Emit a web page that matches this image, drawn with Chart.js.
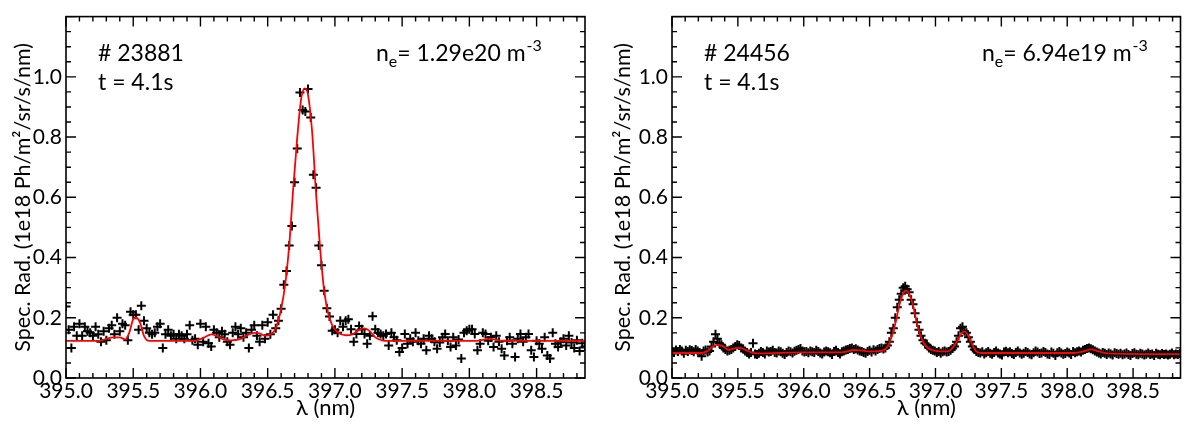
<!DOCTYPE html>
<html>
<head>
<meta charset="utf-8">
<script src="https://cdn.jsdelivr.net/npm/chart.js@4.4.1/dist/chart.umd.min.js"></script>
<style>
  html, body { margin: 0; padding: 0; background: #fff; }
  #wrap { position: relative; width: 1187px; height: 425px; overflow: hidden; }
  #c1 { position: absolute; left: 0; top: 0; }
  #c2 { position: absolute; left: 600px; top: 0; }
</style>
</head>
<body>
<div id="wrap">
  <canvas id="c1" width="600" height="425"></canvas>
  <canvas id="c2" width="587" height="425"></canvas>
</div>
<script>
const FONT = "Lato, 'Open Sans', sans-serif";

// axes
const xMin = 395.0, xMax = 398.86;
const yMin = 0.0, yMax = 1.2;
const xTicks = [395.0, 395.5, 396.0, 396.5, 397.0, 397.5, 398.0, 398.5];
const yTicks = [0.0, 0.2, 0.4, 0.6, 0.8, 1.0];

// labels in the plots
const shots = ["# 23881", "# 24456"];
const times = ["t = 4.1s", "t = 4.1s"];
const densities = ["1.29e20", "6.94e19"];

// shot 23881 : measured spectrum, one value every 0.02 nm from 395.00
const start23881 = 395.0, step23881 = 0.02;
const meas23881 = [
  0.237,0.16,0.10,0.17,0.14,0.18,0.14,0.17,0.155,0.15,
  0.14,0.17,0.145,0.12,0.155,0.125,0.165,0.175,0.145,0.20,
  0.155,0.18,0.175,0.125,0.22,0.21,0.21,0.16,0.24,0.19,
  0.165,0.15,0.145,0.15,0.17,0.18,0.10,0.145,0.16,0.14,
  0.145,0.13,0.145,0.14,0.13,0.145,0.175,0.125,0.13,0.11,
  0.18,0.12,0.17,0.115,0.105,0.16,0.15,0.135,0.155,0.145,
  0.12,0.11,0.15,0.17,0.145,0.165,0.135,0.15,0.10,0.16,
  0.175,0.14,0.12,0.175,0.13,0.185,0.145,0.21,0.165,0.19,
  0.23,0.31,0.355,0.44,0.505,0.65,0.762,0.948,0.89,0.885,
  0.96,0.865,0.675,0.632,0.44,0.374,0.29,0.232,0.204,0.157,
  0.16,
  0.15,0.19,0.17,0.19,0.195,0.162,0.12,0.146,0.173,0.162,
  0.146,0.114,0.14,0.205,0.162,0.15,0.146,0.14,0.146,0.108,
  0.15,0.135,0.125,0.086,0.10,0.146,0.114,0.13,0.12,0.15,
  0.124,0.114,0.13,0.092,0.14,0.13,0.12,0.097,0.118,0.135,
  0.146,0.124,0.103,0.135,0.108,0.128,0.065,0.15,0.157,0.162,
  0.162,0.146,0.092,0.114,0.15,0.146,0.124,0.135,0.103,0.14,
  0.12,0.097,0.075,0.124,0.135,0.114,0.07,0.13,0.146,0.12,
  0.135,0.146,0.092,0.07,0.124,0.114,0.097,0.135,0.075,0.065,
  0.15,0.114,0.103,0.12,0.13,0.108,0.14,0.118,0.10,0.125,
  0.09,0.115,0.105
];
// shot 23881 : fit
const fitX23881 = [395.00,395.25,395.30,395.35,395.40,395.44,395.47,395.50,395.52,395.55,395.58,395.62,
  395.95,396.03,396.08,396.12,396.17,396.22,396.30,396.36,396.40,396.44,396.48,396.52,396.56,396.60,
  396.63,396.66,396.69,396.72,396.75,396.777,396.80,396.83,396.86,396.89,396.92,396.95,396.98,397.02,
  397.08,397.13,397.18,397.22,397.26,397.30,397.35,397.40,398.05,398.15,398.25,398.86];
const fitY23881 = [0.123,0.123,0.13,0.135,0.135,0.128,0.15,0.195,0.20,0.185,0.14,0.123,
  0.123,0.135,0.145,0.14,0.128,0.125,0.13,0.145,0.15,0.148,0.14,0.145,0.165,0.23,
  0.31,0.44,0.63,0.80,0.93,0.962,0.94,0.82,0.61,0.43,0.29,0.215,0.175,0.152,
  0.142,0.145,0.16,0.165,0.155,0.135,0.125,0.123,0.123,0.13,0.123,0.123];

// shot 24456 : measured spectrum, one value every 0.015 nm from 395.00
const start24456 = 395.0, step24456 = 0.015;
const meas24456 = [
  0.09,0.085,0.093,0.088,0.095,0.09,0.082,0.092,0.088,0.094,
  0.091,0.087,0.095,0.09,0.085,0.072,0.09,0.093,0.086,0.09,
  0.105,0.12,0.145,0.13,0.115,0.11,0.10,0.095,0.09,0.092,
  0.095,0.10,0.105,0.11,0.108,0.10,0.096,0.09,0.085,0.08,
  0.085,0.115,0.08,0.078,0.082,0.088,0.085,0.08,0.09,0.086,
  0.088,0.092,0.085,0.083,0.09,0.087,0.082,0.078,0.085,0.09,
  0.087,0.083,0.089,0.092,0.095,0.098,0.09,0.086,0.088,0.084,
  0.09,0.087,0.085,0.092,0.088,0.083,0.08,0.086,0.09,0.087,
  0.084,0.078,0.088,0.092,0.085,0.08,0.087,0.09,0.093,0.095,
  0.098,0.10,0.095,0.097,0.093,0.09,0.088,0.085,0.082,0.088,
  0.092,0.086,0.094,0.09,0.095,0.098,0.10,0.096,0.10,0.108,
  0.12,0.15,0.165,0.20,0.235,0.26,0.28,0.30,0.305,0.295,
  0.285,0.26,0.245,0.215,0.185,0.16,0.14,0.125,0.115,0.11,
  0.10,0.095,0.092,0.09,0.085,0.088,0.082,0.087,0.09,0.086,
  0.088,0.092,0.098,0.105,0.12,0.14,0.165,0.17,0.155,0.15,
  0.135,0.12,0.105,0.095,0.088,0.085,0.083,0.087,0.08,0.084,
  0.088,0.082,0.079,0.085,0.09,0.083,0.08,0.076,0.086,0.089,
  0.084,0.087,0.081,0.078,0.085,0.09,0.083,0.079,0.082,0.088,
  0.085,0.08,0.077,0.084,0.09,0.086,0.081,0.083,0.088,0.085,
  0.08,0.078,0.086,0.082,0.075,0.084,0.088,0.083,0.079,0.081,
  0.086,0.083,0.078,0.088,0.084,0.087,0.09,0.086,0.092,0.095,
  0.098,0.10,0.097,0.094,0.09,0.086,0.083,0.08,0.085,0.082,
  0.078,0.083,0.08,0.076,0.084,0.081,0.079,0.082,0.077,0.08,
  0.083,0.078,0.075,0.081,0.084,0.079,0.077,0.082,0.08,0.076,
  0.079,0.083,0.078,0.08,0.075,0.082,0.079,0.077,0.081,0.078,
  0.08,0.076,0.079,0.083,0.077,0.08,0.078,0.081
];
// shot 24456 : fit
const fitX24456 = [395.00,395.22,395.27,395.31,395.35,395.39,395.43,395.47,395.51,395.55,395.60,395.65,
  396.00,396.20,396.30,396.38,396.43,396.50,396.58,396.63,396.67,396.70,396.73,396.76,396.78,396.80,
  396.83,396.86,396.89,396.92,396.96,397.00,397.08,397.12,397.16,397.20,397.22,397.25,397.28,397.31,
  397.35,398.05,398.12,398.18,398.24,398.30,398.86];
const fitY24456 = [0.083,0.083,0.09,0.105,0.11,0.105,0.093,0.098,0.10,0.095,0.085,0.082,
  0.085,0.085,0.086,0.093,0.092,0.088,0.09,0.10,0.14,0.19,0.25,0.285,0.29,0.28,
  0.24,0.18,0.135,0.11,0.095,0.09,0.088,0.095,0.12,0.15,0.155,0.14,0.11,0.088,
  0.083,0.083,0.088,0.095,0.088,0.082,0.079];

function gridPoints(start, step, values) {
  return values.map((v, i) => ({ x: +(start + i * step).toFixed(3), y: v }));
}
function pairPoints(xs, ys) {
  return xs.map((x, i) => ({ x: x, y: ys[i] }));
}

// box with inward ticks on all sides + the text inside the plot
const framePlugin = {
  id: "frame",
  afterDraw(chart, args, o) {
    const { ctx, chartArea: a, scales: { x, y } } = chart;
    ctx.save();
    ctx.strokeStyle = "#000";
    ctx.lineWidth = 1.6;
    ctx.strokeRect(a.left, a.top, a.right - a.left, a.bottom - a.top);

    ctx.lineWidth = 1.4;
    ctx.beginPath();
    for (let k = 0; xMin + k * 0.1 <= x.max + 1e-6; k++) {
      const px = x.getPixelForValue(xMin + k * 0.1);
      const len = k % 5 === 0 ? 10 : 5;
      ctx.moveTo(px, a.bottom); ctx.lineTo(px, a.bottom - len);
      ctx.moveTo(px, a.top); ctx.lineTo(px, a.top + len);
    }
    for (let k = 0; k * 0.05 <= y.max + 1e-6; k++) {
      const py = y.getPixelForValue(k * 0.05);
      const len = k % 4 === 0 ? 10 : 5;
      ctx.moveTo(a.left, py); ctx.lineTo(a.left + len, py);
      ctx.moveTo(a.right, py); ctx.lineTo(a.right - len, py);
    }
    ctx.stroke();

    ctx.fillStyle = "#000";
    ctx.textBaseline = "alphabetic";
    ctx.textAlign = "left";
    ctx.font = "23px " + FONT;
    ctx.fillText(o.shot, a.left + 32, a.top + 44);
    ctx.fillText(o.time, a.left + 32, a.top + 73);

    // n_e= ... m^-3
    const base = a.top + 44;
    let tx = a.left + 310;
    ctx.fillText("n", tx, base);
    tx += ctx.measureText("n").width;
    ctx.font = "16px " + FONT;
    ctx.fillText("e", tx, base + 6);
    tx += ctx.measureText("e").width;
    ctx.font = "23px " + FONT;
    const mid = "= " + o.ne + " m";
    ctx.fillText(mid, tx, base);
    tx += ctx.measureText(mid).width;
    ctx.font = "16px " + FONT;
    ctx.fillText("-3", tx + 1, base - 10);
    ctx.restore();
  }
};

Chart.defaults.font.family = FONT;
Chart.defaults.color = "#000";

function makeChart(id, panel, axisWidth, rightPad, meas, fit) {
  return new Chart(document.getElementById(id), {
    type: "scatter",
    data: {
      datasets: [
        {
          type: "line",
          data: fit,
          borderColor: "#ff0000",
          borderWidth: 1.8,
          pointRadius: 0,
          cubicInterpolationMode: "monotone",
          fill: false,
          order: 0
        },
        {
          data: meas,
          pointStyle: "cross",
          pointRadius: 4.5,
          pointBorderWidth: 2,
          pointBorderColor: "#000",
          borderColor: "#000",
          backgroundColor: "#000",
          order: 1
        }
      ]
    },
    options: {
      responsive: false,
      animation: false,
      layout: { padding: { top: 9, right: rightPad, bottom: 0, left: 0 } },
      plugins: {
        legend: { display: false },
        tooltip: { enabled: false },
        frame: { shot: shots[panel], time: times[panel], ne: densities[panel] }
      },
      scales: {
        x: {
          type: "linear",
          min: xMin,
          max: xMax,
          border: { display: false },
          grid: { display: false, drawTicks: false },
          ticks: {
            font: { size: 21 },
            padding: 1,
            maxRotation: 0,
            autoSkip: false,
            includeBounds: false,
            callback: v => v.toFixed(1)
          },
          afterBuildTicks: s => { s.ticks = xTicks.map(v => ({ value: v })); },
          afterFit: s => { s.height = 47; },
          title: {
            display: true,
            text: "λ (nm)",
            font: { size: 22 },
            padding: { top: 0, bottom: 4 }
          }
        },
        y: {
          min: yMin,
          max: yMax,
          border: { display: false },
          grid: { display: false, drawTicks: false },
          ticks: {
            font: { size: 21 },
            padding: 4,
            autoSkip: false,
            callback: v => v.toFixed(1)
          },
          afterBuildTicks: s => { s.ticks = yTicks.map(v => ({ value: v })); },
          afterFit: s => { s.width = axisWidth; },
          title: {
            display: true,
            text: "Spec. Rad. (1e18 Ph/m²/sr/s/nm)",
            font: { size: 21.5 },
            padding: { top: 10, bottom: 0 }
          }
        }
      }
    },
    plugins: [framePlugin]
  });
}

makeChart("c1", 0, 66, 15,
  gridPoints(start23881, step23881, meas23881),
  pairPoints(fitX23881, fitY23881));
makeChart("c2", 1, 72, 1,
  gridPoints(start24456, step24456, meas24456),
  pairPoints(fitX24456, fitY24456));
</script>
</body>
</html>
